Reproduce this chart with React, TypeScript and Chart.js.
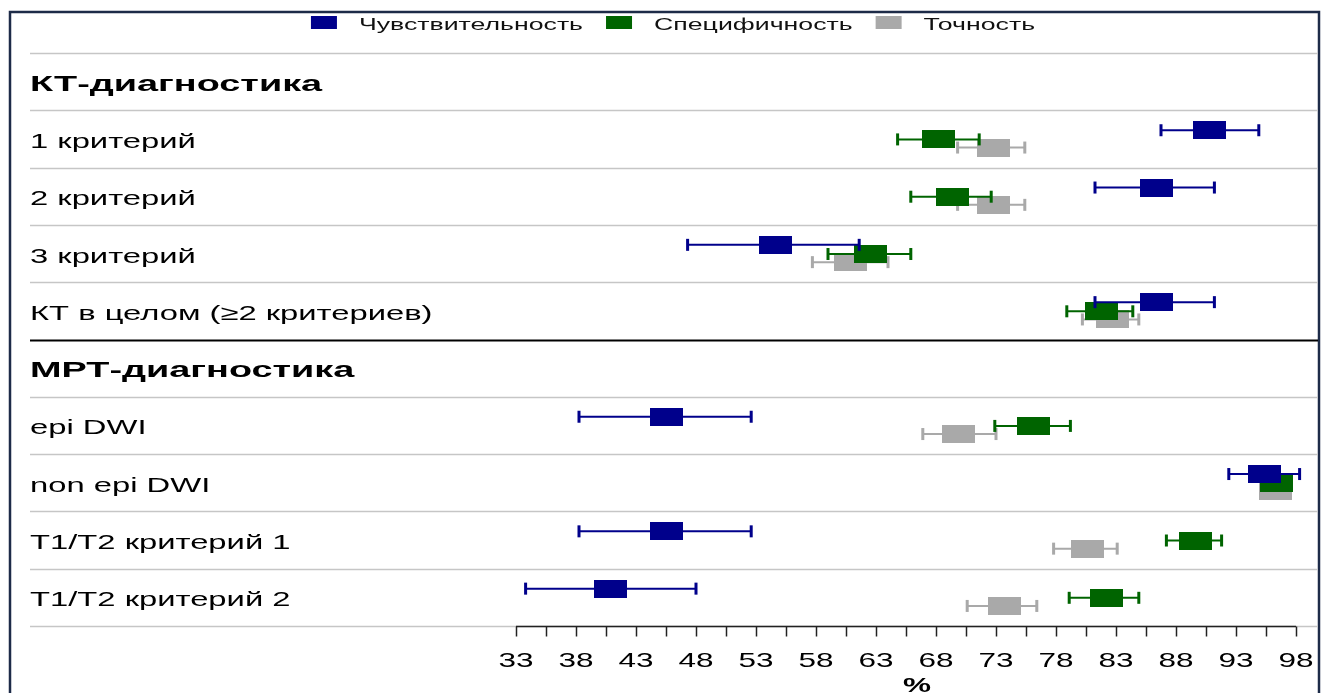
import React, { useEffect, useRef } from 'react';
import { Chart, registerables } from 'chart.js';

Chart.register(...registerables);

// ---------------- data ----------------
const ROW_LABELS = [
  'КТ-диагностика',
  '1 критерий',
  '2 критерий',
  '3 критерий',
  'КТ в целом (≥2 критериев)',
  'МРТ-диагностика',
  'epi DWI',
  'non epi DWI',
  'T1/T2 критерий 1',
  'T1/T2 критерий 2',
];
const HEADER_ROWS = [0, 5];

const SERIES_NAMES = ['Чувствительность', 'Специфичность', 'Точность'];
const SERIES_COLORS = ['#00008b', '#006400', '#a9a9a9'];

const SENS_VALUE = [null, 90.8, 86.4, 54.6, 86.4, null, 45.5, 95.4, 45.5, 40.9];
const SENS_LOW = [null, 86.75, 81.25, 47.3, 81.25, null, 38.25, 92.4, 38.25, 33.8];
const SENS_HIGH = [null, 94.9, 91.2, 61.6, 91.2, null, 52.6, 98.3, 52.6, 48.0];

const SPEC_VALUE = [null, 68.2, 69.4, 62.5, 81.8, null, 76.1, 96.4, 89.6, 82.2];
const SPEC_LOW = [null, 64.8, 65.9, 59.0, 78.9, null, 72.9, 95.4, 87.2, 79.1];
const SPEC_HIGH = [null, 71.6, 72.6, 65.9, 84.4, null, 79.2, 97.4, 91.8, 84.9];

const ACC_VALUE = [null, 72.8, 72.8, 60.9, 82.7, null, 69.9, 96.3, 80.6, 73.7];
const ACC_LOW = [null, 69.8, 69.8, 57.7, 80.2, null, 66.9, 95.3, 77.8, 70.6];
const ACC_HIGH = [null, 75.4, 75.4, 64.0, 84.9, null, 73.0, 97.3, 83.1, 76.4];

const X_MIN = 33;
const X_MAX = 98;
const X_LABEL_STEP = 5;
const X_TICK_STEP = 2.5;
const X_TITLE = '%';

// ---------------- style ----------------
const W = 1327;
const H = 693;
const FONT = "'Liberation Sans', Arial, sans-serif";
const TEXT_STRETCH = 1.56;
const HEADER_STRETCH = 1.72;
const LEGEND_STRETCH = 1.57;
const SERIES_OFFSET = [-0.152, 0.008, 0.15]; // in row units
const BOX_W = 33;
const BOX_H = 18;
const FRAME = { left: 10, top: 12, right: 1319, bottom: 720 };
const GRID_LEFT = 30;
const GRID_RIGHT = 1318;
const LABEL_X = 30;
const LEGEND_CENTER_X = 673;
const LEGEND_BASELINE = 30;

function makeBox(color: string) {
  const c = document.createElement('canvas');
  c.width = BOX_W;
  c.height = BOX_H;
  const g = c.getContext('2d')!;
  g.fillStyle = color;
  g.fillRect(0, 0, BOX_W, BOX_H);
  return c;
}

function drawText(
  ctx: CanvasRenderingContext2D,
  text: string,
  x: number,
  y: number,
  align: 'left' | 'center',
  font: string,
  color: string,
  stretch: number
) {
  ctx.save();
  ctx.font = font;
  ctx.fillStyle = color;
  ctx.textBaseline = 'alphabetic';
  ctx.textAlign = 'left';
  const w = ctx.measureText(text).width * stretch;
  const x0 = align === 'center' ? x - w / 2 : x;
  ctx.translate(x0, y);
  ctx.scale(stretch, 1);
  ctx.fillText(text, 0, 0);
  ctx.restore();
  return w;
}

function measure(ctx: CanvasRenderingContext2D, text: string, font: string, stretch: number) {
  ctx.save();
  ctx.font = font;
  const w = ctx.measureText(text).width * stretch;
  ctx.restore();
  return w;
}

const forestPlugin = {
  id: 'forestPlugin',
  beforeDraw(chart: any) {
    const ctx: CanvasRenderingContext2D = chart.ctx;
    const xs = chart.scales.x;
    const ys = chart.scales.y;
    ctx.save();
    ctx.fillStyle = '#ffffff';
    ctx.fillRect(0, 0, chart.width, chart.height);

    // frame
    ctx.strokeStyle = '#1d2b48';
    ctx.lineWidth = 2.5;
    ctx.strokeRect(FRAME.left, FRAME.top, FRAME.right - FRAME.left, FRAME.bottom - FRAME.top);

    // row separators
    const nRows = ROW_LABELS.length;
    for (let i = 0; i <= nRows; i++) {
      const y = Math.round(ys.getPixelForValue(i - 0.5)) + 0.5;
      const isSection = HEADER_ROWS.includes(i) && i > 0;
      ctx.beginPath();
      ctx.strokeStyle = isSection ? '#000000' : '#c6c6c6';
      ctx.lineWidth = isSection ? 2 : 1.5;
      ctx.moveTo(GRID_LEFT, y);
      ctx.lineTo(GRID_RIGHT, y);
      ctx.stroke();
    }

    // row labels
    ROW_LABELS.forEach((lab, i) => {
      const y = ys.getPixelForValue(i) + 9;
      const bold = HEADER_ROWS.includes(i);
      if (bold) {
        drawText(ctx, lab, LABEL_X, y, 'left', `bold 22px ${FONT}`, '#000000', HEADER_STRETCH);
      } else {
        drawText(ctx, lab, LABEL_X, y, 'left', `21px ${FONT}`, '#000000', TEXT_STRETCH);
      }
    });

    // x axis
    const axisY = Math.round(ys.getPixelForValue(nRows - 0.5)) + 0.5;
    ctx.beginPath();
    ctx.strokeStyle = '#222222';
    ctx.lineWidth = 1.5;
    ctx.moveTo(xs.getPixelForValue(X_MIN), axisY);
    ctx.lineTo(xs.getPixelForValue(X_MAX), axisY);
    ctx.stroke();
    for (let v = X_MIN; v <= X_MAX + 1e-6; v += X_TICK_STEP) {
      const px = Math.round(xs.getPixelForValue(v)) + 0.5;
      ctx.beginPath();
      ctx.moveTo(px, axisY);
      ctx.lineTo(px, axisY + 10);
      ctx.stroke();
    }
    for (let v = X_MIN; v <= X_MAX + 1e-6; v += X_LABEL_STEP) {
      drawText(ctx, String(v), xs.getPixelForValue(v), axisY + 40, 'center', `21px ${FONT}`, '#000000', 1.5);
    }
    drawText(ctx, X_TITLE, (xs.left + GRID_RIGHT) / 2, axisY + 65, 'center', `bold 21px ${FONT}`, '#000000', 1.5);

    // legend
    const lf = `17px ${FONT}`;
    const items = chart.data.datasets.map((d: any) => ({ label: d.label, color: d.legendColor }));
    const boxW = 26, boxH = 13, gapIn = 22, gapOut = 23;
    let total = 0;
    items.forEach((it: any, k: number) => {
      total += boxW + gapIn + measure(ctx, it.label, lf, LEGEND_STRETCH);
      if (k < items.length - 1) total += gapOut;
    });
    let lx = LEGEND_CENTER_X - total / 2;
    items.forEach((it: any) => {
      ctx.fillStyle = it.color;
      ctx.fillRect(lx, LEGEND_BASELINE - 14, boxW, boxH);
      lx += boxW + gapIn;
      lx += drawText(ctx, it.label, lx, LEGEND_BASELINE, 'left', lf, '#111111', LEGEND_STRETCH);
      lx += gapOut;
    });
    ctx.restore();
  },
  beforeDatasetDraw(chart: any, args: any) {
    const ctx: CanvasRenderingContext2D = chart.ctx;
    const xs = chart.scales.x;
    const ds = chart.data.datasets[args.index];
    const meta = args.meta;
    ctx.save();
    ctx.strokeStyle = ds.legendColor;
    ctx.fillStyle = ds.legendColor;
    ctx.lineWidth = 2;
    meta.data.forEach((el: any, j: number) => {
      const raw = ds.data[j];
      const y = el.y;
      const x1 = xs.getPixelForValue(raw.lo);
      const x2 = xs.getPixelForValue(raw.hi);
      ctx.beginPath();
      ctx.moveTo(x1, y);
      ctx.lineTo(x2, y);
      ctx.stroke();
      ctx.fillRect(x1 - 1.5, y - 6, 3, 12);
      ctx.fillRect(x2 - 1.5, y - 6, 3, 12);
    });
    ctx.restore();
  },
};

function buildSeries(k: number, values: (number | null)[], lows: (number | null)[], highs: (number | null)[]) {
  const pts: any[] = [];
  values.forEach((v, i) => {
    if (v === null) return;
    pts.push({ x: v, y: i + SERIES_OFFSET[k], lo: lows[i], hi: highs[i] });
  });
  return {
    label: SERIES_NAMES[k],
    data: pts,
    legendColor: SERIES_COLORS[k],
    pointStyle: makeBox(SERIES_COLORS[k]),
    pointRadius: 10,
    pointHoverRadius: 10,
    showLine: false,
    clip: false,
  };
}

export default function App() {
  const ref = useRef<HTMLCanvasElement | null>(null);
  useEffect(() => {
    document.body.style.margin = '0';
    document.body.style.overflow = 'hidden';
    const canvas = ref.current!;
    const chart = new Chart(canvas, {
      type: 'scatter',
      data: {
        datasets: [
          buildSeries(0, SENS_VALUE, SENS_LOW, SENS_HIGH),
          buildSeries(1, SPEC_VALUE, SPEC_LOW, SPEC_HIGH),
          buildSeries(2, ACC_VALUE, ACC_LOW, ACC_HIGH),
        ] as any,
      },
      options: {
        animation: false,
        responsive: false,
        devicePixelRatio: 1,
        events: [],
        layout: { padding: { left: 516, right: 31, top: 53, bottom: 67 } },
        plugins: { legend: { display: false }, tooltip: { enabled: false } },
        scales: {
          x: { type: 'linear', min: X_MIN, max: X_MAX, display: false },
          y: { type: 'linear', min: -0.5, max: ROW_LABELS.length - 0.5, reverse: true, display: false },
        },
      } as any,
      plugins: [forestPlugin],
    });
    return () => chart.destroy();
  }, []);
  return (
    <div style={{ width: W, height: H, background: '#fff' }}>
      <canvas ref={ref} width={W} height={H} style={{ display: 'block' }} />
    </div>
  );
}
